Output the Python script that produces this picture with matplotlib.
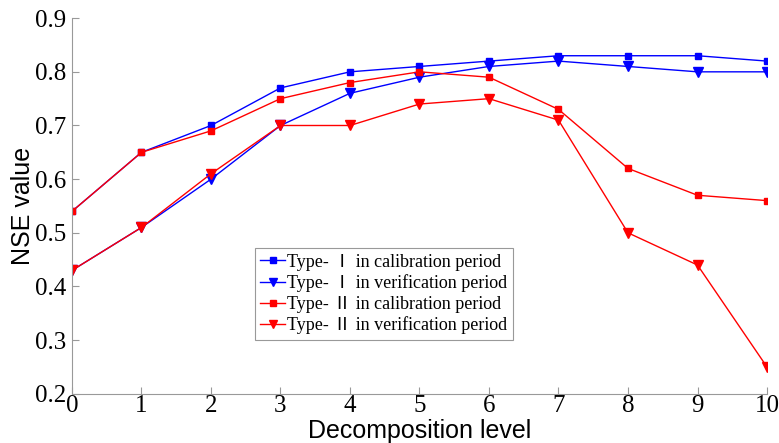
import matplotlib.pyplot as plt

# decomposition levels and NSE values
levels = [0, 1, 2, 3, 4, 5, 6, 7, 8, 9, 10]
type1_cal = [0.54, 0.65, 0.70, 0.77, 0.80, 0.81, 0.82, 0.83, 0.83, 0.83, 0.82]
type1_ver = [0.43, 0.51, 0.60, 0.70, 0.76, 0.79, 0.81, 0.82, 0.81, 0.80, 0.80]
type2_cal = [0.54, 0.65, 0.69, 0.75, 0.78, 0.80, 0.79, 0.73, 0.62, 0.57, 0.56]
type2_ver = [0.43, 0.51, 0.61, 0.70, 0.70, 0.74, 0.75, 0.71, 0.50, 0.44, 0.25]

labels = ['Type- Ⅰ in calibration period',
          'Type- Ⅰ in verification period',
          'Type- Ⅱ in calibration period',
          'Type- Ⅱ in verification period']

serif = ['Liberation Serif', 'Noto Sans CJK SC', 'DejaVu Sans']

fig = plt.figure(figsize=(7.79, 4.43), dpi=100)
ax = fig.add_axes([0.0924, 0.111, 0.8922, 0.848])

ax.plot(levels, type1_cal, color='blue', marker='s', ms=5, lw=1, label=labels[0])
ax.plot(levels, type1_ver, color='blue', marker='v', ms=7, lw=1, label=labels[1])
ax.plot(levels, type2_cal, color='red', marker='s', ms=5, lw=1, label=labels[2])
ax.plot(levels, type2_ver, color='red', marker='v', ms=7, lw=1, label=labels[3])

ax.set_xlim(0, 10)
ax.set_ylim(0.2, 0.9)
ax.set_xticks(levels)
ax.set_yticks([0.2, 0.3, 0.4, 0.5, 0.6, 0.7, 0.8, 0.9])

for s in ['top', 'right']:
    ax.spines[s].set_visible(False)
for s in ['left', 'bottom']:
    ax.spines[s].set_color('#999999')
ax.tick_params(direction='in', length=5, color='#999999', pad=1)
ax.tick_params(axis='y', pad=4)
for t in ax.get_xticklabels() + ax.get_yticklabels():
    t.set_family('Liberation Serif')
    t.set_fontsize(18)

ax.set_xlabel('Decomposition level', family='Liberation Sans', fontsize=18, labelpad=1)
ax.set_ylabel('NSE value', family='Liberation Sans', fontsize=18, labelpad=0)

leg = ax.legend(loc='lower left', bbox_to_anchor=(0.263, 0.144), prop={'family': serif, 'size': 13},
                fancybox=False, edgecolor='#999999', framealpha=1, handlelength=1.4,
                handletextpad=0.1, borderpad=0.3, labelspacing=0.2, borderaxespad=0,
                markerscale=0.8)
leg.get_frame().set_linewidth(0.8)

fig.savefig('out.png', dpi=100)
